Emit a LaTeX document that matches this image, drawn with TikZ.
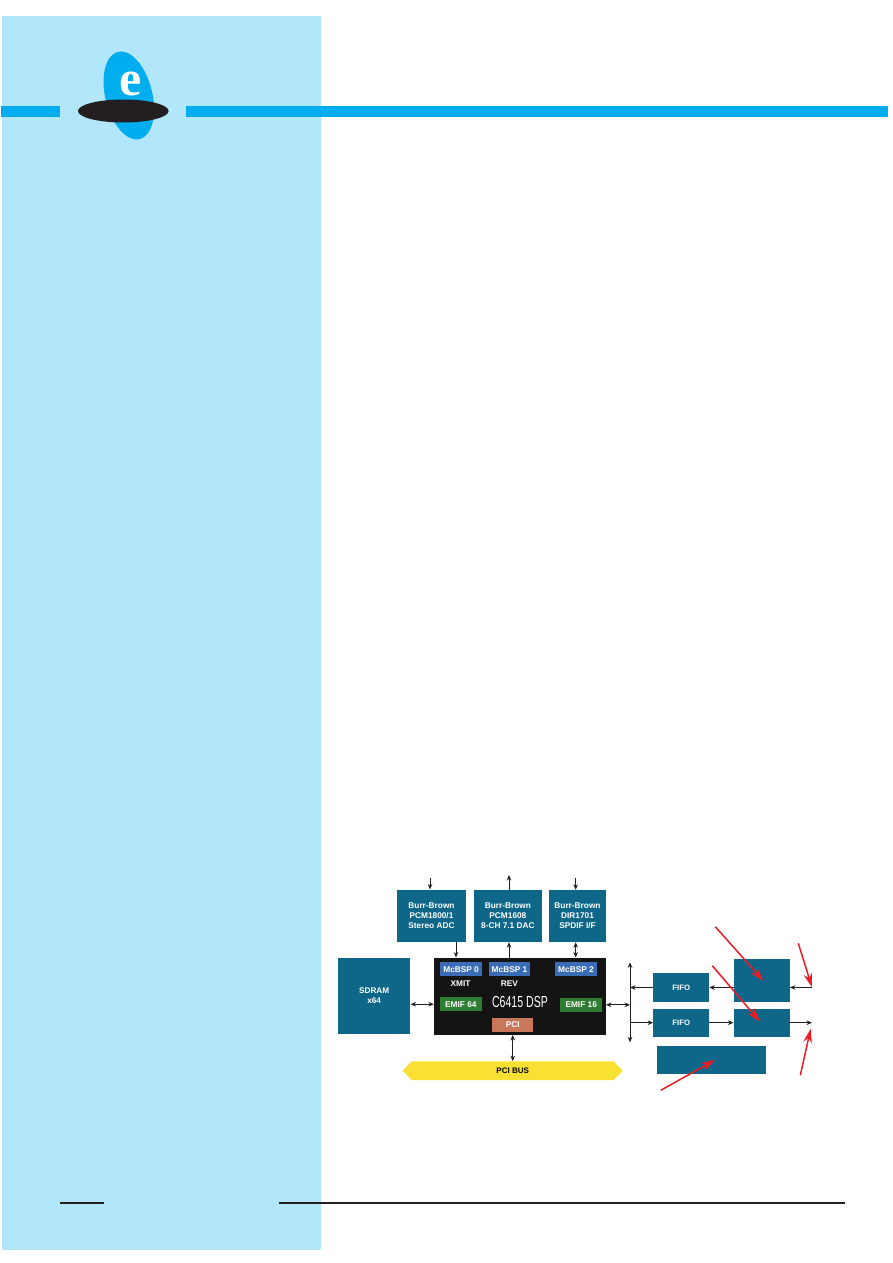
\documentclass[tikz,border=0pt]{standalone}
\usepackage{fontspec}
\setmainfont{Liberation Sans}
\newfontfamily\logofont{Liberation Serif}
\usetikzlibrary{arrows.meta,shapes.geometric,shapes.symbols}
\definecolor{sidebg}{HTML}{B2E6FB}
\definecolor{bandblue}{HTML}{00AEEF}
\definecolor{teal}{HTML}{0E6689}
\definecolor{chipblack}{HTML}{141414}
\definecolor{portblue}{HTML}{3A6DB5}
\definecolor{emifgreen}{HTML}{2F7D32}
\definecolor{pcibrown}{HTML}{C8775A}
\definecolor{busyellow}{HTML}{FBE034}
\definecolor{wire}{HTML}{231F20}
\definecolor{mark}{HTML}{ED1C24}
\begin{document}
\begin{tikzpicture}[>={Stealth[length=5.5pt,width=4.6pt]},x=1pt,y=-1pt,
	box/.style={fill=teal,text=white,inner sep=0pt,align=center,font=\fontsize{8.3}{10}\selectfont\bfseries},
	port/.style={inner sep=0pt,text=white,minimum width=41.5pt,minimum height=13.7pt,font=\fontsize{8.3}{10}\selectfont\bfseries},
	wirearrow/.style={draw=wire,line width=1pt},
	redarrow/.style={draw=mark,line width=1.5pt,-{Stealth[length=14pt,width=8.5pt]}}]
	\useasboundingbox (0,0) rectangle (893,1263);
	% page furniture
	\fill[sidebg] (2,16) rectangle (321,1250);
	\fill[bandblue] (1,106) rectangle (60,117);
	\fill[bandblue] (186,106) rectangle (888,117);
	\node[ellipse,fill=bandblue,inner sep=0pt,minimum width=47pt,minimum height=90pt,rotate=14] (logo) at (128.8,95.5) {};
	\node[text=white,inner sep=0pt,font=\fontsize{50}{50}\selectfont\bfseries\logofont] (logoe) at (131,83.5) {e};
	\node[ellipse,fill=wire,inner sep=0pt,minimum width=90.6pt,minimum height=23pt] (disc) at (123.3,111) {};
	\draw[wire,line width=1.4pt] (60,1203) -- (104,1203);
	\draw[wire,line width=1.4pt] (279,1203) -- (845,1203);
	% converters
	\node[box,minimum width=69pt,minimum height=52pt] (adc) at (431.5,915.7) {Burr-Brown\\PCM1800/1\\Stereo ADC};
	\node[box,minimum width=68.3pt,minimum height=52pt] (dac) at (507.9,916) {Burr-Brown\\PCM1608\\8-CH 7.1 DAC};
	\node[box,minimum width=57pt,minimum height=52pt] (dir) at (577.5,916) {Burr-Brown\\DIR1701\\SPDIF I/F};
	% dsp and memory
	\node[box,minimum width=72.3pt,minimum height=75.4pt,font=\fontsize{8.2}{10}\selectfont\bfseries] (sdram) at (374.2,996) {SDRAM\\x64};
	\node[fill=chipblack,inner sep=0pt,minimum width=171.7pt,minimum height=77pt] (dsp) at (519.9,996.2) {};
	\node[text=white,inner sep=0pt,font=\fontsize{16}{16}\selectfont] (dsplabel) at (520,1001.5) {\scalebox{.66}[1]{C6415 DSP}};
	\node[port,fill=portblue] (mcbspa) at (461.1,969.2) {McBSP 0};
	\node[port,fill=portblue] (mcbspb) at (509.5,969.2) {McBSP 1};
	\node[port,fill=portblue] (mcbspc) at (576,969.2) {McBSP 2};
	\node[port,fill=emifgreen] (emifa) at (460.8,1004.2) {EMIF 64};
	\node[port,fill=emifgreen] (emifb) at (581.2,1004.8) {EMIF 16};
	\node[port,fill=pcibrown] (pci) at (512.7,1024.9) {PCI};
	\node[text=white,inner sep=0pt,font=\fontsize{8.3}{10}\selectfont\bfseries] (xmit) at (460.5,983.3) {XMIT};
	\node[text=white,inner sep=0pt,font=\fontsize{8.3}{10}\selectfont\bfseries] (rev) at (509.3,983.3) {REV};
	\node[signal,signal to=west and east,signal pointer angle=92,fill=busyellow,inner sep=0pt,minimum width=220pt,minimum height=18.7pt,font=\fontsize{8}{10}\selectfont\bfseries] (pcibus) at (512.7,1070.7) {PCI BUS};
	% fifos and the blank blocks
	\node[box,minimum width=55.7pt,minimum height=28.4pt,font=\fontsize{7.8}{10}\selectfont\bfseries] (fifoa) at (681.2,987.5) {FIFO};
	\node[box,minimum width=55.7pt,minimum height=28pt,font=\fontsize{7.8}{10}\selectfont\bfseries] (fifob) at (681.2,1022.7) {FIFO};
	\node[box,minimum width=56pt,minimum height=43.3pt] (blocka) at (761.7,980.7) {};
	\node[box,minimum width=56pt,minimum height=28pt] (blockb) at (761.7,1022.7) {};
	\node[box,minimum width=109.6pt,minimum height=28pt] (blockc) at (711.5,1060) {};
	% free ends
	\coordinate (adcin) at (430,878.3);
	\coordinate (dacout) at (509,875);
	\coordinate (dirin) at (575.7,878.3);
	\coordinate (bustop) at (630,962.3);
	\coordinate (busbot) at (630,1042.3);
	\coordinate (rightin) at (812,987.5);
	\coordinate (rightout) at (812,1022.7);
	% connections
	\draw[wirearrow,->] (adcin) -- (adcin |- adc.north);
	\draw[wirearrow,->] (dacout |- dac.north) -- (dacout);
	\draw[wirearrow,->] (dirin) -- (dirin |- dir.north);
	\draw[wirearrow,->] ([xshift=24.5pt]adc.south) -- ([xshift=24.5pt]adc.south |- dsp.north);
	\draw[wirearrow,->] (dsp.north -| dacout) -- (dacout |- dac.south);
	\draw[wirearrow,<->] (dirin |- dir.south) -- (dirin |- dsp.north);
	\draw[wirearrow,<->] (sdram.east |- emifa.west) -- (dsp.west |- emifa.west);
	\draw[wirearrow,<->] (pcibus.north) -- (pcibus.north |- dsp.south);
	\draw[wirearrow,<->] (bustop) -- (busbot);
	\draw[wirearrow,<->] (dsp.east |- emifb.east) -- (bustop |- emifb.east);
	\draw[wirearrow,->] (fifoa.west) -- (fifoa.west -| bustop);
	\draw[wirearrow,->] (fifob.west -| bustop) -- (fifob.west);
	\draw[wirearrow,->] (fifoa.east -| blocka.west) -- (fifoa.east);
	\draw[wirearrow,->] (fifob.east) -- (blockb.west);
	\draw[wirearrow,->] (rightin) -- (rightin -| blocka.east);
	\draw[wirearrow,->] (blockb.east) -- (rightout);
	% red pointers
	\coordinate (reda) at (715.3,926.7);
	\coordinate (redaend) at (763.3,980.7);
	\coordinate (redb) at (712.3,965.7);
	\coordinate (redbend) at (760,1021.7);
	\coordinate (redc) at (798.3,943.3);
	\coordinate (redcend) at (812,987.3);
	\coordinate (redd) at (800.3,1075.3);
	\coordinate (reddend) at (810.7,1028.7);
	\coordinate (rede) at (660.7,1090.3);
	\coordinate (redeend) at (715,1060);
	\draw[redarrow] (reda) -- (redaend);
	\draw[redarrow] (redb) -- (redbend);
	\draw[redarrow] (redc) -- (redcend);
	\draw[redarrow] (redd) -- (reddend);
	\draw[redarrow] (rede) -- (redeend);
\end{tikzpicture}
\end{document}
